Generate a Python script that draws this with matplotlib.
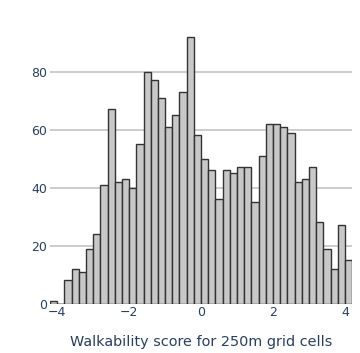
import numpy as np
import matplotlib.pyplot as plt

# histogram counts, bins of width 0.2 from -4.2 to 4.2
bin_edges = np.round(np.arange(-4.2, 4.21, 0.2), 2)
counts = [1, 0, 8, 12, 11, 19, 24, 41, 67, 42, 43, 40, 55, 80, 77, 71, 61,
          65, 73, 92, 58, 50, 46, 36, 46, 45, 47, 47, 35, 51, 62, 62, 61, 59,
          42, 43, 47, 28, 19, 12, 27, 15]
xticks = [-4, -2, 0, 2, 4]
yticks = [0, 20, 40, 60, 80]
xlabel = 'Walkability score for 250m grid cells'

text_color = '#2a3f5f'

fig = plt.figure(figsize=(3.6, 3.53), dpi=100)
ax = fig.add_axes([0.139, 0.1397, 0.839, 0.7955])

ax.bar(bin_edges[:-1], counts, width=0.2, align='edge',
       color='#c8c8c8', edgecolor='#333333', linewidth=1, zorder=2)

ax.set_xlim(-4.2, 4.2)
ax.set_ylim(0, 96.8)
ax.set_xticks(xticks)
ax.set_xticklabels(['\u22124', '\u22122', '0', '2', '4'])
ax.set_yticks(yticks)
ax.grid(axis='y', color='#c8c8c8', linewidth=1.3, zorder=0)
ax.tick_params(length=0, labelsize=9, labelcolor=text_color, pad=2)

for s in ax.spines.values():
    s.set_visible(False)

ax.set_xlabel(xlabel, fontsize=10.4, color=text_color, labelpad=11)

fig.savefig('out.png', dpi=100)
